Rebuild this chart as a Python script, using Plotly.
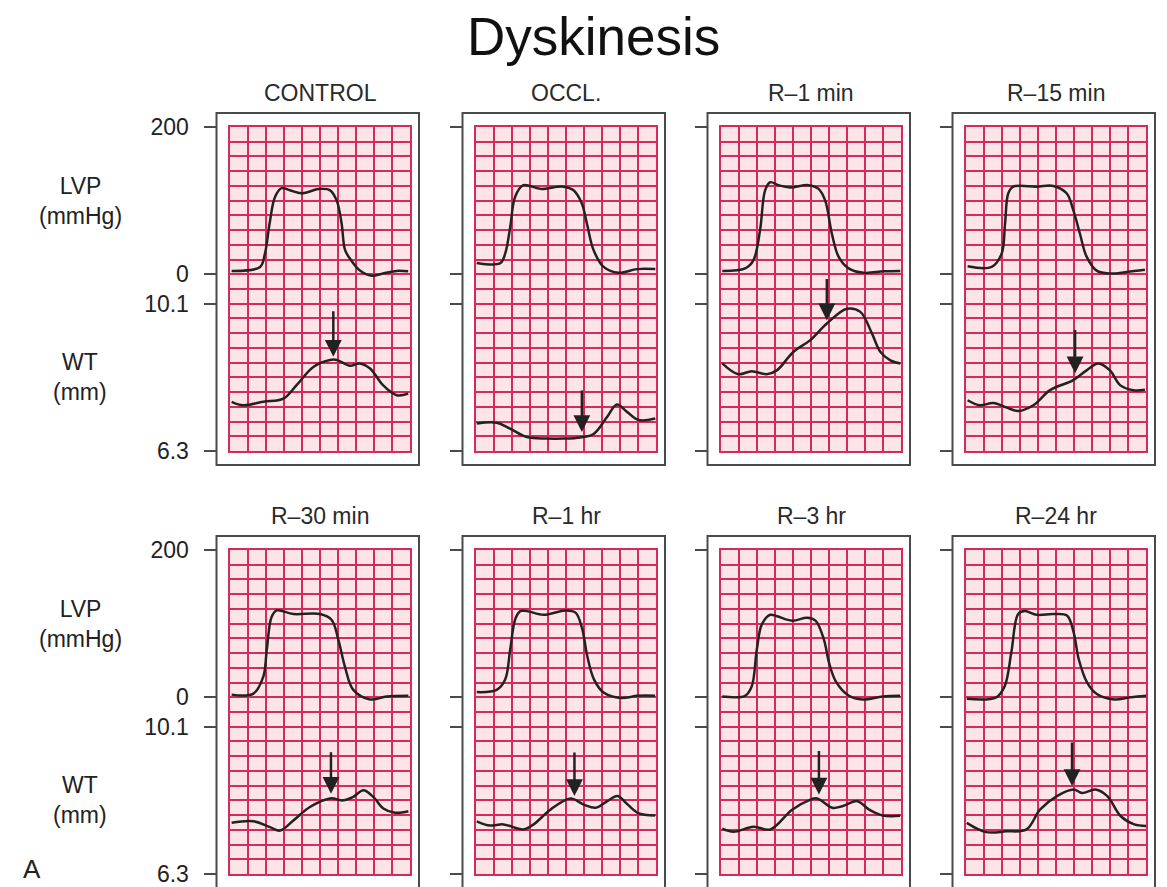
import plotly.graph_objects as go

W, H = 1167, 887

# ---- panel titles (row-major: top row then bottom row) ----
titles = ["CONTROL", "OCCL.", "R\u20131 min", "R\u201315 min",
          "R\u201330 min", "R\u20131 hr", "R\u20133 hr", "R\u201324 hr"]

# ---- LVP traces (time in grid divisions, pressure in mmHg) ----
lvp_t = [
    [0.09, 1.67, 1.94, 2.2, 2.5, 2.87, 3.33, 3.98, 5.0, 5.56, 5.93, 6.2, 6.39, 6.67, 7.22, 7.87, 8.5, 9.26, 9.9],
    [0.04, 1.34, 1.62, 1.9, 2.17, 2.63, 3.56, 4.86, 5.42, 5.88, 6.16, 6.53, 7.09, 7.92, 8.94, 9.96],
    [0.07, 1.34, 1.8, 2.17, 2.45, 2.73, 3.19, 3.84, 4.86, 5.42, 5.79, 6.16, 6.53, 7.09, 7.92, 9.04, 9.96],
    [0.09, 1.43, 1.98, 2.17, 2.35, 2.63, 3.93, 4.85, 5.59, 5.96, 6.33, 6.7, 7.26, 8.0, 8.93, 9.94],
    [0.09, 1.3, 1.85, 2.04, 2.31, 2.59, 3.52, 5.0, 5.65, 6.02, 6.39, 6.85, 7.78, 8.7, 9.91],
    [0.04, 1.15, 1.62, 1.9, 2.18, 2.46, 2.83, 3.76, 4.97, 5.53, 5.9, 6.18, 6.56, 7.11, 8.04, 8.98, 9.95],
    [0.07, 1.34, 1.71, 1.99, 2.27, 2.74, 3.11, 3.95, 4.79, 5.25, 5.71, 6.0, 6.37, 7.11, 7.86, 8.98, 9.95],
    [0.04, 1.68, 2.15, 2.52, 2.9, 3.27, 3.93, 4.86, 5.61, 5.98, 6.26, 6.73, 7.29, 8.22, 9.16, 10.0],
]
lvp_mmhg = [
    [4.6, 10, 28, 69, 105, 117, 114, 110, 116, 114, 100, 69, 33, 21, 5, -2, 1, 4.6, 4],
    [15.4, 15, 28, 64, 105, 121, 116, 119, 114, 96, 69, 33, 10, 2, 7, 7],
    [4.6, 8, 19, 60, 114, 125, 121, 118, 121, 116, 100, 55, 24, 8, 2, 4, 4.6],
    [10.8, 10, 28, 69, 110, 119, 119, 120, 110, 87, 55, 24, 5, 1, 3, 6],
    [3.6, 5, 28, 64, 109, 118, 113, 113, 105, 78, 41, 10, -3, 1, 2],
    [7, 10, 24, 65, 106, 117, 117, 112, 118, 115, 93, 56, 24, 6, -1, 2, 2],
    [1, 2, 15, 65, 99, 112, 110, 104, 108, 104, 79, 47, 22, 2, -3, 1, 2],
    [-2, 0, 15, 61, 113, 117, 112, 113, 111, 88, 52, 20, 4, -3, 0, 2],
]

# ---- wall thickness traces (time in grid divisions, WT in mm) ----
wt_t = [
    [0.09, 0.74, 1.85, 2.96, 3.7, 4.63, 5.56, 5.93, 6.67, 7.2, 7.78, 8.5, 9.26, 9.9],
    [0.04, 1.15, 1.89, 2.82, 3.93, 4.86, 5.79, 6.53, 7.27, 7.83, 8.39, 9.04, 9.96],
    [0.07, 0.96, 1.71, 2.54, 3.1, 4.03, 4.96, 5.88, 7.0, 7.74, 8.39, 8.85, 9.41, 9.96],
    [0.09, 0.78, 1.52, 2.26, 2.91, 3.74, 4.67, 5.96, 6.7, 7.35, 8.0, 8.56, 9.3, 9.94],
    [0.09, 1.3, 2.22, 2.78, 3.52, 4.44, 5.56, 6.3, 6.85, 7.41, 7.96, 8.52, 9.17, 9.91],
    [0.04, 0.78, 1.52, 2.64, 3.2, 4.13, 5.25, 5.99, 6.65, 7.3, 7.86, 8.32, 8.98, 9.95],
    [0.07, 0.69, 1.81, 2.74, 3.95, 4.88, 5.34, 6.18, 6.74, 7.58, 8.23, 8.98, 9.95],
    [0.04, 1.12, 2.24, 3.36, 4.11, 5.05, 5.98, 6.45, 7.2, 7.85, 8.6, 9.35, 10.0],
]
wt_mm = [
    [7.57, 7.48, 7.57, 7.65, 8.0, 8.47, 8.65, 8.65, 8.50, 8.56, 8.43, 8.0, 7.74, 7.78],
    [7.01, 7.03, 6.88, 6.66, 6.62, 6.62, 6.65, 6.74, 7.17, 7.5, 7.31, 7.1, 7.14],
    [8.56, 8.28, 8.36, 8.28, 8.38, 8.86, 9.16, 9.59, 9.97, 9.89, 9.33, 8.86, 8.64, 8.56],
    [7.61, 7.48, 7.54, 7.42, 7.33, 7.48, 7.87, 8.13, 8.38, 8.56, 8.38, 8.0, 7.87, 7.88],
    [7.62, 7.66, 7.51, 7.42, 7.68, 8.03, 8.25, 8.2, 8.29, 8.46, 8.29, 7.99, 7.88, 7.92],
    [7.66, 7.55, 7.58, 7.45, 7.58, 7.96, 8.25, 8.09, 8.01, 8.18, 8.31, 8.14, 7.88, 7.81],
    [7.47, 7.39, 7.52, 7.45, 7.96, 8.2, 8.25, 8.01, 8.05, 8.18, 7.96, 7.81, 7.8],
    [7.62, 7.38, 7.4, 7.45, 7.96, 8.31, 8.48, 8.39, 8.48, 8.31, 7.79, 7.58, 7.54],
]

# ---- arrows marking end-systole on the WT trace ----
arrow_t = [5.74, 5.88, 5.88, 6.06, 5.61, 5.47, 5.44, 5.89]
arrow_mm = [8.73, 6.79, 9.67, 8.30, 8.37, 8.31, 8.35, 8.57]
arrow_len = [47, 43, 43, 45, 43, 45, 45, 45]

# ---- scales ----
LVP_TICKS = [0, 200]
WT_TICKS = [6.3, 10.1]
LVP_RANGE = [-240, 200]      # 22 chart-paper rows of 20 mmHg
WT_RANGE = [6.3, 14.66]      # 22 rows of 0.38 mm
N_COLS = 10

# ---- page geometry (pixels) ----
grid_left = [230, 476, 721, 966]
grid_w = 180
grid_top = [127, 550]
grid_h = 324
frame_pad_l, frame_pad_r, frame_pad_v = 13.5, 9, 14
title_y = [93, 516]

PAPER = "#fde5e7"
GRID = "#d42a5c"
INK = "#222222"
FRAME = "#4a4a4a"
FONT = "Liberation Sans, Arial, sans-serif"


def px(x):
    return x / W


def py(y):
    return 1 - y / H


fig = go.Figure()
layout = dict(
    width=W, height=H, autosize=False,
    margin=dict(l=0, r=0, t=0, b=0, pad=0, autoexpand=False),
    paper_bgcolor="white",
    plot_bgcolor=PAPER,
    showlegend=False,
    hovermode=False,
    font=dict(family=FONT, color=INK),
    shapes=[], annotations=[],
)

line_style = dict(color=INK, width=2.5, shape="spline", smoothing=1.0)

for i in range(8):
    r, c = divmod(i, 4)
    xi = i + 1
    yg, yl, yw = 3 * i + 1, 3 * i + 2, 3 * i + 3
    xname = "x" if xi == 1 else f"x{xi}"
    yg_name = "y" if yg == 1 else f"y{yg}"
    x0, x1 = grid_left[c], grid_left[c] + grid_w
    y0, y1 = grid_top[r], grid_top[r] + grid_h
    fl = x0 - frame_pad_l

    layout["xaxis" if xi == 1 else f"xaxis{xi}"] = dict(
        domain=[px(x0), px(x1)], range=[0, N_COLS], anchor=yg_name,
        tick0=0, dtick=1, showgrid=True, gridcolor=GRID, gridwidth=1.7,
        showline=True, mirror=True, linecolor=GRID, linewidth=1.7,
        showticklabels=False, ticks="", zeroline=False, fixedrange=True,
        automargin=False,
    )
    # chart-paper grid, in LVP units (one row = 20 mmHg)
    layout["yaxis" if yg == 1 else f"yaxis{yg}"] = dict(
        domain=[py(y1), py(y0)], range=LVP_RANGE, anchor=xname,
        tick0=200, dtick=20, showgrid=True, gridcolor=GRID, gridwidth=1.7,
        showline=True, mirror=True, linecolor=GRID, linewidth=1.7,
        showticklabels=False, ticks="", zeroline=False, fixedrange=True,
        automargin=False,
    )
    tick_style = dict(
        overlaying=yg_name, anchor="free", position=px(fl), side="left",
        showgrid=False, zeroline=False, showline=False,
        ticks="outside", ticklen=13, tickwidth=2, tickcolor=FRAME,
        showticklabels=(c == 0), ticklabelstandoff=10,
        ticklabeloverflow="allow",
        tickfont=dict(size=23, color=INK, family=FONT), fixedrange=True,
        automargin=False,
    )
    layout[f"yaxis{yl}"] = dict(range=LVP_RANGE, tickmode="array",
                                tickvals=LVP_TICKS,
                                ticktext=[str(v) for v in LVP_TICKS], **tick_style)
    layout[f"yaxis{yw}"] = dict(range=WT_RANGE, tickmode="array",
                                tickvals=WT_TICKS,
                                ticktext=[str(v) for v in WT_TICKS], **tick_style)

    fig.add_trace(go.Scatter(
        x=lvp_t[i], y=lvp_mmhg[i], xaxis=xname, yaxis=yg_name,
        mode="lines", line=line_style,
    ))
    # the LVP scale axis sits at the frame edge; give it a subplot of its own
    fig.add_trace(go.Scatter(
        x=[], y=[], xaxis=xname, yaxis=f"y{yl}", mode="lines", line=line_style,
    ))
    fig.add_trace(go.Scatter(
        x=wt_t[i], y=wt_mm[i], xaxis=xname, yaxis=f"y{yw}",
        mode="lines", line=line_style,
    ))

    # outer frame around each recording
    fy0 = y0 - frame_pad_v
    fy1 = y1 + frame_pad_v
    layout["shapes"].append(dict(
        type="rect", xref="paper", yref="paper",
        x0=px(fl), x1=px(x1 + frame_pad_r), y0=py(fy1), y1=py(fy0),
        line=dict(color=FRAME, width=2), fillcolor="rgba(0,0,0,0)", layer="below",
    ))

    # panel heading
    layout["annotations"].append(dict(
        text=titles[i], xref="paper", yref="paper",
        x=px((x0 + x1) / 2), y=py(title_y[r]), showarrow=False,
        xanchor="center", yanchor="middle",
        font=dict(size=23, color="#2a2a2a", family=FONT),
    ))

    # end-systole arrow
    layout["annotations"].append(dict(
        text="", xref=xname, yref=f"y{yw}", x=arrow_t[i], y=arrow_mm[i],
        showarrow=True, ax=0, ay=-arrow_len[i], arrowhead=2, arrowsize=1.35,
        arrowwidth=2.5, arrowcolor=INK, standoff=0,
    ))

# row labels
for r in range(2):
    off = grid_top[r] - grid_top[0]
    for text, y in [("LVP<br>(mmHg)", 201), ("WT<br>(mm)", 377)]:
        layout["annotations"].append(dict(
            text=text, xref="paper", yref="paper", x=px(80), y=py(y + off),
            showarrow=False, xanchor="center", yanchor="middle",
            font=dict(size=23, color=INK, family=FONT),
        ))

layout["annotations"].append(dict(
    text="Dyskinesis", xref="paper", yref="paper", x=px(593), y=py(36),
    showarrow=False, xanchor="center", yanchor="middle",
    font=dict(size=53, color="#111111", family=FONT),
))
layout["annotations"].append(dict(
    text="A", xref="paper", yref="paper", x=px(32), y=py(886),
    showarrow=False, xanchor="center", yanchor="bottom",
    font=dict(size=26, color=INK, family=FONT),
))

fig.update_layout(**layout)
fig.write_html("out.html", config={"displayModeBar": False})
